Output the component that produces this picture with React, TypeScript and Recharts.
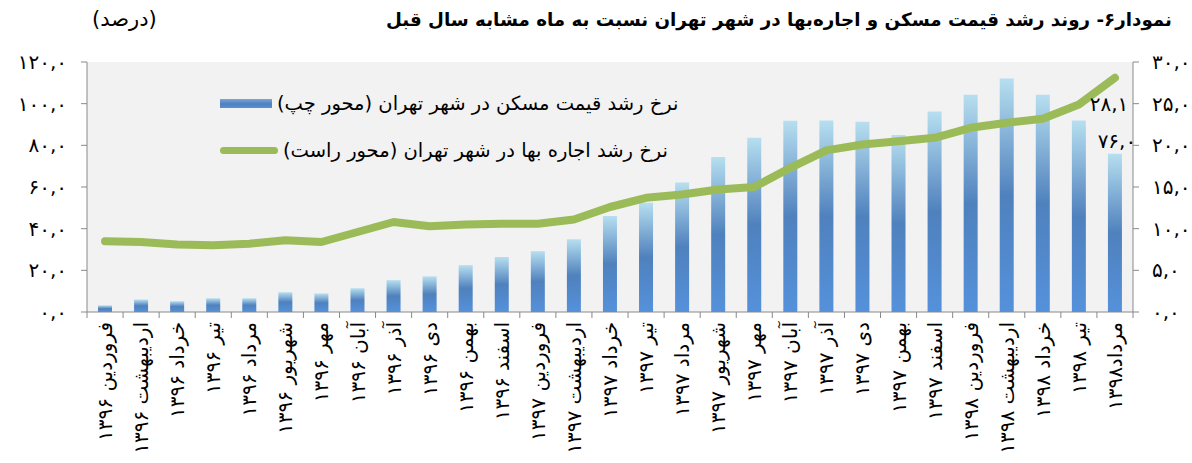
import { ComposedChart, Bar, Line, XAxis, YAxis, CartesianGrid, Legend, LabelList } from 'recharts';

const months = [
  'فروردین ۱۳۹۶', 'اردیبهشت ۱۳۹۶', 'خرداد ۱۳۹۶', 'تیر ۱۳۹۶', 'مرداد ۱۳۹۶', 'شهریور ۱۳۹۶',
  'مهر ۱۳۹۶', 'آبان ۱۳۹۶', 'آذر ۱۳۹۶', 'دی ۱۳۹۶', 'بهمن ۱۳۹۶', 'اسفند ۱۳۹۶',
  'فروردین ۱۳۹۷', 'اردیبهشت ۱۳۹۷', 'خرداد ۱۳۹۷', 'تیر ۱۳۹۷', 'مرداد ۱۳۹۷', 'شهریور ۱۳۹۷',
  'مهر ۱۳۹۷', 'آبان ۱۳۹۷', 'آذر ۱۳۹۷', 'دی ۱۳۹۷', 'بهمن ۱۳۹۷', 'اسفند ۱۳۹۷',
  'فروردین ۱۳۹۸', 'اردیبهشت ۱۳۹۸', 'خرداد ۱۳۹۸', 'تیر ۱۳۹۸', 'مرداد۱۳۹۸',
];

// house price growth, left axis (%)
const housePrice = [
  3.2, 6.0, 5.2, 6.6, 6.6, 9.5, 8.9, 11.4, 15.3, 17.1, 22.5, 26.4,
  29.2, 34.9, 46.1, 52.5, 62.2, 74.4, 83.7, 91.8, 91.9, 91.3, 85.0, 96.2,
  104.3, 112.1, 104.3, 91.9, 76.0,
];

// rent growth, right axis (%)
const rent = [
  8.5, 8.4, 8.1, 8.0, 8.2, 8.6, 8.4, 9.6, 10.8, 10.3, 10.5, 10.6,
  10.6, 11.1, 12.6, 13.7, 14.1, 14.7, 15.0, 17.3, 19.4, 20.1, 20.5, 20.9,
  22.1, 22.7, 23.2, 24.9, 28.1,
];

const leftTicks = [0, 20, 40, 60, 80, 100, 120];
const rightTicks = [0, 5, 10, 15, 20, 25, 30];

const title = 'نمودار۶- روند رشد قیمت مسکن و اجاره‌بها در شهر تهران نسبت به ماه مشابه سال قبل';
const unit = '(درصد)';
const houseName = 'نرخ رشد قیمت مسکن در شهر تهران (محور چپ)';
const rentName = 'نرخ رشد اجاره بها در شهر تهران (محور راست)';

const data = months.map((m, i) => ({ month: m, house: housePrice[i], rent: rent[i] }));

const FONT = '"DejaVu Sans", sans-serif';
const AXIS = '#898989';
const PLOT_L = 87;
const PLOT_R = 1133;
const CAT_W = (PLOT_R - PLOT_L) / months.length;

const fa = (s: string) => s.replace(/\d/g, (d) => '۰۱۲۳۴۵۶۷۸۹'[Number(d)]);
const fmt = (v: number) => fa(v.toFixed(1).replace('.', ','));

function MonthTick({ x, y, payload, index }: any) {
  const last = index === months.length - 1;
  return (
    <g>
      <line x1={x - CAT_W / 2} x2={x - CAT_W / 2} y1={y} y2={y + 6} stroke={AXIS} />
      {last && <line x1={x + CAT_W / 2} x2={x + CAT_W / 2} y1={y} y2={y + 6} stroke={AXIS} />}
      <text
        transform={`translate(${x},${y + 10}) rotate(-90)`}
        textAnchor="end"
        dy="0.35em"
        fontSize={20}
        fontFamily={FONT}
        fill="#000"
      >
        {payload.value}
      </text>
    </g>
  );
}

function LastBarLabel({ x, y, width, value, index }: any) {
  if (index !== months.length - 1) return null;
  return (
    <text x={x + width / 2 + 2} y={y - 6} textAnchor="middle" fontSize={20} fontFamily={FONT} fill="#000">
      {fmt(value)}
    </text>
  );
}

function LastLineLabel({ x, y, value, index }: any) {
  if (index !== months.length - 1) return null;
  return (
    <text x={x - 6} y={y + 33} textAnchor="middle" fontSize={20} fontFamily={FONT} fill="#000">
      {fmt(value)}
    </text>
  );
}

function LegendBox() {
  const row = { display: 'flex', alignItems: 'center', height: 24, whiteSpace: 'nowrap' as const };
  const text = { direction: 'rtl' as const, fontSize: 19.5, fontFamily: FONT, color: '#000', marginLeft: 5 };
  return (
    <div>
      <div style={{ ...row, marginBottom: 23 }}>
        <span
          style={{
            display: 'inline-block',
            width: 52,
            height: 9,
            background: 'linear-gradient(#7aa6dc, #4f81bd 55%, #5590d6)',
          }}
        />
        <span style={text}>{houseName}</span>
      </div>
      <div style={row}>
        <span style={{ display: 'inline-block', width: 58, height: 7, borderRadius: 4, background: '#9bbb59' }} />
        <span style={text}>{rentName}</span>
      </div>
    </div>
  );
}

export default function App() {
  return (
    <div style={{ position: 'absolute', left: 0, top: 0, width: 1192, height: 463, background: '#fff' }}>
      <div
        style={{
          position: 'absolute',
          right: 20,
          top: 9,
          direction: 'rtl',
          fontFamily: FONT,
          fontWeight: 'bold',
          fontSize: 18.3,
          whiteSpace: 'nowrap',
        }}
      >
        {title}
      </div>
      <div style={{ position: 'absolute', left: 92, top: 7, direction: 'rtl', fontFamily: FONT, fontSize: 21 }}>
        {unit}
      </div>
      <ComposedChart
        width={1192}
        height={463}
        data={data}
        margin={{ top: 62, right: 0, left: 0, bottom: 0 }}
        barSize={14}
      >
        <defs>
          <linearGradient id="barGrad" x1="0" y1="0" x2="0" y2="1">
            <stop offset="0%" stopColor="#b7dff0" />
            <stop offset="50%" stopColor="#4f81bd" />
            <stop offset="100%" stopColor="#5591db" />
          </linearGradient>
        </defs>
        <CartesianGrid fill="#f2f2f2" horizontal={false} vertical={false} />
        <XAxis
          dataKey="month"
          height={151}
          interval={0}
          tickLine={false}
          tickSize={0}
          tickMargin={0}
          axisLine={{ stroke: AXIS }}
          tick={<MonthTick />}
        />
        <YAxis
          yAxisId="left"
          width={PLOT_L}
          domain={[0, 120]}
          ticks={leftTicks}
          tickFormatter={fmt}
          axisLine={{ stroke: AXIS }}
          tickLine={{ stroke: AXIS }}
          tickSize={6}
          tickMargin={14}
          tick={{ fontSize: 20, fontFamily: FONT, fill: '#000' }}
        />
        <YAxis
          yAxisId="right"
          orientation="right"
          width={1192 - PLOT_R}
          domain={[0, 30]}
          ticks={rightTicks}
          tickFormatter={fmt}
          axisLine={{ stroke: AXIS }}
          tickLine={{ stroke: AXIS }}
          tickSize={6}
          tickMargin={13}
          tick={{ fontSize: 20, fontFamily: FONT, fill: '#000' }}
        />
        <Legend
          layout="vertical"
          align="center"
          verticalAlign="middle"
          content={<LegendBox />}
          wrapperStyle={{ left: 220, top: 91, width: 480 }}
        />
        <Bar yAxisId="left" dataKey="house" name={houseName} fill="url(#barGrad)" isAnimationActive={false}>
          <LabelList dataKey="house" content={<LastBarLabel />} />
        </Bar>
        <Line
          yAxisId="right"
          dataKey="rent"
          name={rentName}
          type="linear"
          stroke="#9bbb59"
          strokeWidth={8}
          strokeLinecap="round"
          strokeLinejoin="round"
          dot={false}
          activeDot={false}
          isAnimationActive={false}
        >
          <LabelList dataKey="rent" content={<LastLineLabel />} />
        </Line>
      </ComposedChart>
    </div>
  );
}
